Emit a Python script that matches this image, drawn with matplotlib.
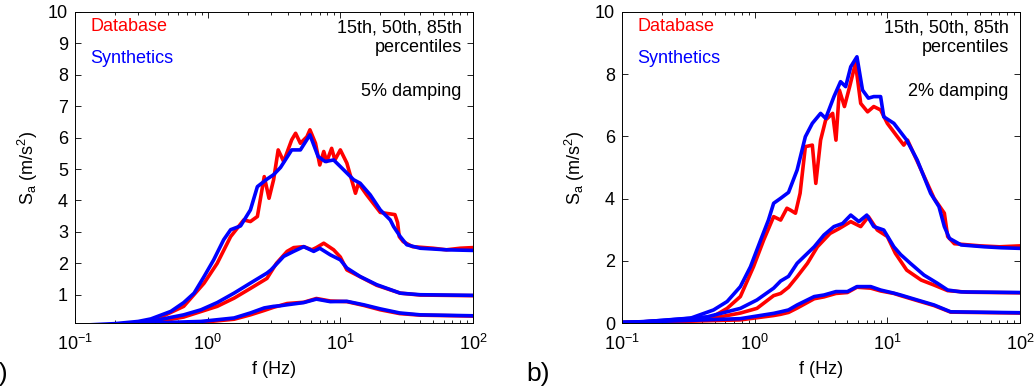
import numpy as np
import matplotlib
matplotlib.use("Agg")
import matplotlib.pyplot as plt
from matplotlib.ticker import LogLocator, NullFormatter

plt.rcParams['font.family'] = ['Liberation Sans', 'DejaVu Sans']
plt.rcParams['mathtext.fontset'] = 'custom'
plt.rcParams['mathtext.rm'] = 'Liberation Sans'

# ---- panel a) 5% damping ----
f_a_syn85 = [0.1, 0.2, 0.3, 0.373, 0.528, 0.66, 0.79, 0.94, 1.11, 1.32, 1.49, 1.77, 2.10, 2.37, 2.80,
             3.14, 3.54, 4.3, 5.0, 5.9, 6.8, 7.7, 8.9, 10.0, 12.6, 14.1, 16.8, 20, 23.8, 25.2, 28.3,
             31.7, 40, 63, 100]
sa_a_syn85 = [0.02, 0.08, 0.15, 0.23, 0.47, 0.75, 1.05, 1.58, 2.11, 2.75, 3.07, 3.19, 3.70, 4.44, 4.68,
              4.82, 5.05, 5.61, 5.61, 6.09, 5.40, 5.24, 5.29, 5.08, 4.66, 4.55, 4.18, 3.70, 3.38, 3.17, 2.85,
              2.59, 2.48, 2.43, 2.41]

f_a_db85 = [0.1, 0.2, 0.3, 0.4, 0.66, 0.94, 1.18, 1.49, 1.87, 2.10, 2.37, 2.67, 2.9, 3.14, 3.4, 3.74,
            4.3, 4.6, 5.0, 5.6, 5.9, 6.5, 7.0, 7.5, 7.9, 8.6, 9.1, 10, 11.2, 13, 13.7, 15.8, 20, 25.8,
            27.0, 27.8, 29.8, 35, 50, 63, 80, 100]
sa_a_db85 = [0.01, 0.05, 0.12, 0.2, 0.63, 1.37, 2.0, 2.85, 3.38, 3.33, 3.49, 4.76, 4.07, 4.66, 5.61, 5.24,
             5.93, 6.14, 5.82, 6.03, 6.25, 5.82, 5.13, 5.56, 5.24, 5.66, 5.29, 5.61, 5.19, 4.23, 4.55, 4.18,
             3.62, 3.55, 3.3, 2.85, 2.69, 2.53, 2.48, 2.43, 2.48, 2.5]

f_a_syn50 = [0.1, 0.2, 0.37, 0.66, 0.89, 1.18, 1.58, 2.1, 2.8, 3.0, 3.54, 3.74, 4.45, 5.3, 6.3, 7.0, 8.4,
             10, 11.2, 14.1, 18.8, 28.3, 40, 100]
sa_a_syn50 = [0.01, 0.04, 0.15, 0.36, 0.52, 0.75, 1.05, 1.37, 1.69, 1.79, 2.11, 2.22, 2.38, 2.53, 2.38,
              2.48, 2.27, 2.11, 1.85, 1.58, 1.32, 1.05, 1.0, 0.98]

f_a_db50 = [0.1, 0.2, 0.37, 0.66, 1.18, 1.58, 2.1, 2.8, 3.3, 3.97, 4.45, 5.3, 6.1, 6.6, 7.5, 8.9, 10,
            11.2, 14.9, 18.8, 28.3, 40, 100]
sa_a_db50 = [0.0, 0.03, 0.1, 0.29, 0.63, 0.89, 1.2, 1.52, 2.0, 2.38, 2.5, 2.53, 2.43, 2.5, 2.64, 2.43,
             2.2, 1.79, 1.52, 1.30, 1.05, 0.99, 0.97]

f_a_syn15 = [0.1, 0.37, 0.89, 1.58, 2.1, 2.67, 3.14, 3.54, 3.97, 5.3, 6.6, 8.4, 11.2, 15, 20, 28, 40, 100]
sa_a_syn15 = [0.0, 0.1, 0.15, 0.26, 0.42, 0.58, 0.63, 0.65, 0.68, 0.75, 0.86, 0.78, 0.79, 0.68, 0.55,
              0.42, 0.36, 0.33]
f_a_db15 = f_a_syn15
sa_a_db15 = [0.0, 0.08, 0.12, 0.22, 0.36, 0.5, 0.6, 0.66, 0.72, 0.76, 0.88, 0.80, 0.78, 0.66, 0.52,
             0.40, 0.35, 0.32]

# ---- panel b) 2% damping ----
f_b_syn85 = [0.1, 0.137, 0.2, 0.326, 0.49, 0.62, 0.78, 0.93, 1.11, 1.27, 1.39, 1.57, 1.8, 2.09, 2.41,
             2.72, 3.14, 3.43, 3.96, 4.44, 4.85, 5.3, 5.9, 6.5, 7.2, 7.9, 8.9, 9.4, 11.2, 14.0, 16.8,
             18.9, 21.2, 24.5, 26.9, 29.4, 36, 54, 72, 100]
sa_b_syn85 = [0.02, 0.04, 0.08, 0.15, 0.42, 0.69, 1.17, 1.81, 2.67, 3.31, 3.85, 4.01, 4.2, 4.92, 5.99,
              6.42, 6.74, 6.58, 7.28, 7.76, 7.6, 8.24, 8.56, 7.49, 7.23, 7.28, 7.28, 6.63, 6.42, 5.88, 5.24,
              4.70, 4.17, 3.74, 3.10, 2.72, 2.51, 2.45, 2.42, 2.40]

f_b_db85 = [0.1, 0.2, 0.44, 0.62, 0.78, 0.98, 1.17, 1.39, 1.57, 1.75, 1.86, 2.03, 2.2, 2.41, 2.72, 2.89,
            3.14, 3.43, 3.87, 4.1, 4.35, 4.75, 5.2, 5.75, 6.3, 7.1, 7.9, 8.9, 10, 11.9, 13.3, 14.2,
            16.8, 22.5, 26.9, 28.5, 32, 50, 70, 100]
sa_b_db85 = [0.02, 0.05, 0.1, 0.47, 0.85, 1.81, 2.67, 3.42, 3.31, 3.69, 3.63, 3.53, 4.17, 5.67, 5.72, 4.49,
             5.88, 6.53, 6.74, 5.88, 7.49, 6.96, 7.6, 8.35, 7.06, 6.79, 6.96, 6.85, 6.42, 5.99, 5.72, 5.88,
             5.2, 4.01, 3.53, 2.78, 2.55, 2.48, 2.45, 2.48]

f_b_syn50 = [0.1, 0.137, 0.44, 0.78, 1.04, 1.39, 1.57, 1.8, 2.09, 2.81, 3.33, 3.96, 4.6, 5.3, 6.1, 7.0,
             7.9, 9.4, 11.2, 12.6, 14.9, 18.9, 23.8, 28.5, 36, 100]
sa_b_syn50 = [0.02, 0.03, 0.2, 0.47, 0.74, 1.12, 1.35, 1.5, 1.92, 2.45, 2.83, 3.10, 3.2, 3.47, 3.26, 3.47,
              3.10, 2.99, 2.45, 2.2, 1.92, 1.54, 1.28, 1.06, 1.0, 0.98]

f_b_db50 = [0.1, 0.44, 0.78, 1.04, 1.39, 1.57, 1.8, 2.09, 2.5, 2.97, 3.7, 4.35, 5.3, 6.3, 7.2, 8.4, 10,
            11.5, 14, 18, 22.5, 28.5, 40, 100]
sa_b_db50 = [0.01, 0.12, 0.32, 0.47, 0.88, 0.95, 1.15, 1.49, 1.92, 2.45, 2.88, 3.04, 3.26, 3.1, 3.42,
             2.99, 2.78, 2.24, 1.7, 1.38, 1.22, 1.04, 0.99, 0.97]

f_b_syn15 = [0.1, 0.78, 1.39, 1.57, 1.8, 2.09, 2.81, 3.33, 4.1, 5.0, 5.9, 7.5, 8.9, 11.2, 12.6, 16.8,
             22.5, 30, 100]
sa_b_syn15 = [0.01, 0.14, 0.31, 0.36, 0.42, 0.58, 0.85, 0.9, 1.01, 1.01, 1.17, 1.17, 1.06, 0.96, 0.9,
              0.74, 0.58, 0.36, 0.33]
f_b_db15 = f_b_syn15
sa_b_db15 = [0.0, 0.1, 0.24, 0.28, 0.34, 0.48, 0.78, 0.84, 0.95, 0.98, 1.15, 1.12, 1.03, 0.95, 0.88,
             0.72, 0.56, 0.35, 0.32]

panels = [
    dict(db=[(f_a_db85, sa_a_db85), (f_a_db50, sa_a_db50), (f_a_db15, sa_a_db15)],
         syn=[(f_a_syn85, sa_a_syn85), (f_a_syn50, sa_a_syn50), (f_a_syn15, sa_a_syn15)],
         damping='5% damping', ylim=(0.1, 10), yticks=range(1, 11), label='a)', label_x=8),
    dict(db=[(f_b_db85, sa_b_db85), (f_b_db50, sa_b_db50), (f_b_db15, sa_b_db15)],
         syn=[(f_b_syn85, sa_b_syn85), (f_b_syn50, sa_b_syn50), (f_b_syn15, sa_b_syn15)],
         damping='2% damping', ylim=(0, 10), yticks=range(0, 11, 2), label='b)', label_x=550),
]

W, H = 1036, 392
fs = 13
fig = plt.figure(figsize=(W / 100, H / 100), dpi=100)
ax_left = [75, 622]
ax_w = 398

for p, x0 in zip(panels, ax_left):
    ax = fig.add_axes([x0 / W, (H - 323) / H, ax_w / W, 311 / H])
    for f, v in p['db']:
        ax.plot(f, v, color='#ff0000', lw=2.6, solid_joinstyle='round')
    for f, v in p['syn']:
        ax.plot(f, v, color='#0000ff', lw=2.6, solid_joinstyle='round')
    ax.set_xscale('log')
    ax.set_xlim(0.1, 100)
    ax.set_ylim(*p['ylim'])
    ax.set_yticks(list(p['yticks']))
    ax.xaxis.set_minor_locator(LogLocator(base=10, subs=np.arange(2, 10)))
    ax.xaxis.set_minor_formatter(NullFormatter())
    ax.tick_params(which='both', direction='in', top=True, right=True, labelsize=fs)
    ax.tick_params(axis='x', which='major', length=4, width=0.6, pad=8)
    ax.tick_params(axis='y', which='major', length=4, width=0.6, pad=5)
    ax.tick_params(which='minor', length=2.5, width=0.6)
    for s in ax.spines.values():
        s.set_linewidth(0.7)
    ax.set_xlabel('f (Hz)', fontsize=fs, labelpad=5)
    ax.set_ylabel(r'S$_\mathregular{a}$ (m/s$^\mathregular{2}$)', fontsize=fs, labelpad=6)

    ax.text(0.038, 0.952, 'Database', color='#ff0000', fontsize=fs,
            transform=ax.transAxes, ha='left', va='center')
    ax.text(0.038, 0.849, 'Synthetics', color='#0000ff', fontsize=fs,
            transform=ax.transAxes, ha='left', va='center')
    ax.text(0.972, 0.975, '15th, 50th, 85th\npercentiles', fontsize=fs,
            transform=ax.transAxes, ha='right', va='top', linespacing=1.15)
    ax.text(0.972, 0.743, p['damping'], fontsize=fs,
            transform=ax.transAxes, ha='right', va='center')

    fig.text(p['label_x'] / W, 1 - 374 / H, p['label'], fontsize=19, ha='right', va='center')

fig.savefig('out.png', dpi=100)
